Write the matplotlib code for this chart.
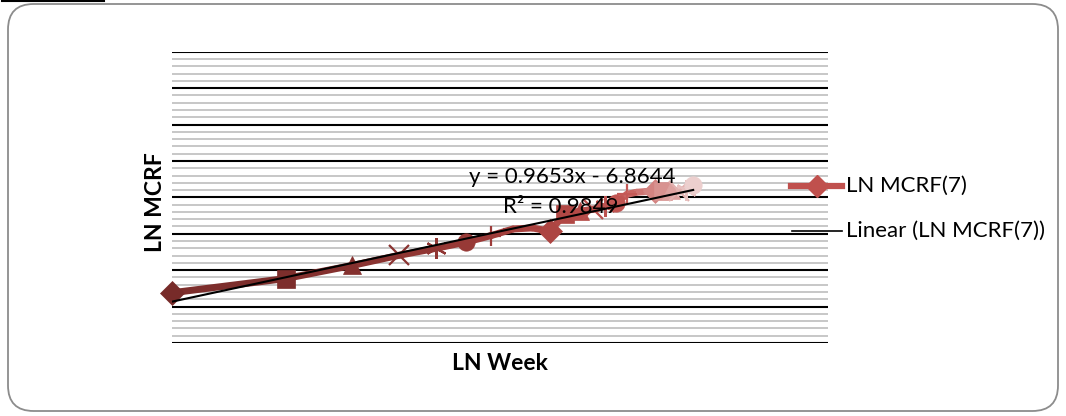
import numpy as np
import matplotlib
matplotlib.use("Agg")
import matplotlib.pyplot as plt
from matplotlib.colors import LinearSegmentedColormap
from matplotlib.patches import FancyBboxPatch
from matplotlib.lines import Line2D

# datos
semanas = list(range(1, 25))
ln_semana = [0.000, 0.693, 1.099, 1.386, 1.609, 1.792, 1.946, 2.079, 2.197, 2.303,
             2.398, 2.485, 2.565, 2.639, 2.708, 2.773, 2.833, 2.890, 2.944, 2.996,
             3.045, 3.091, 3.135, 3.178]
ln_mcrf = [-6.62, -6.23, -5.87, -5.59, -5.40, -5.23, -5.05, -4.87, -4.84, -4.93,
           -4.45, -4.38, -4.33, -4.25, -4.15, -3.92, -3.86, -3.84, -3.82, -3.82,
           -3.81, -3.82, -3.79, -3.66]
pendiente = 0.9653
intercepto = -6.8644
r2 = 0.9849

asterisco = (6, 2, 0)
marcadores = ["D", "s", "^", "x", asterisco, "o", "+", "_", "_"]
cmap = LinearSegmentedColormap.from_list("rojos", ["#772b29", "#a8403d", "#c55a57", "#eccfce"])
colores = [cmap(i / (len(semanas) - 1)) for i in range(len(semanas))]

plt.rcParams["font.family"] = ["Lato", "DejaVu Sans"]

fig = plt.figure(figsize=(10.66, 4.16), dpi=100)

# marco redondeado
marco = FancyBboxPatch((8 / 1066, 5 / 416), 1050 / 1066, 407 / 416,
                       boxstyle="round,pad=0,rounding_size=0.024",
                       transform=fig.transFigure, fill=False, edgecolor="#8c8c8c",
                       linewidth=1.3, mutation_aspect=1066 / 416)
fig.patches.append(marco)
fig.add_artist(Line2D([2 / 1066, 104 / 1066], [415 / 416, 415 / 416], color="black",
                      linewidth=1.5, transform=fig.transFigure))

ax = fig.add_axes([172 / 1066, 1 - 343 / 416, 656 / 1066, 291.3 / 416])
ax.set_xlim(0, 4)
ax.set_ylim(-8, 0)

# cuadricula
for y in np.arange(-8, 0.01, 0.2):
    if abs(y - round(y)) < 1e-6:
        ax.axhline(y, color="black", linewidth=1.5, zorder=1)
    else:
        ax.axhline(y, color="#bdbdbd", linewidth=1.2, zorder=0)

# serie con colores por punto
for i in range(1, len(semanas)):
    ax.plot(ln_semana[i - 1:i + 1], ln_mcrf[i - 1:i + 1], color=colores[i],
            linewidth=5, solid_capstyle="round", zorder=3)
for i in range(len(semanas)):
    m = marcadores[i % len(marcadores)]
    lineal = m in ["x", "+", "_", asterisco]
    ms = 15 if lineal else 12.5
    ax.plot(ln_semana[i], ln_mcrf[i], marker=m, markersize=ms, color=colores[i],
            markeredgewidth=1.6 if lineal else 0.5, zorder=4, clip_on=False)

# linea de tendencia
xt = np.array([ln_semana[0], ln_semana[-1]])
ax.plot(xt, pendiente * xt + intercepto, color="black", linewidth=1.5, zorder=5)

ax.text((572 - 172) / 164, -(177 - 51.7) / 36.4, "y = 0.9653x - 6.8644", ha="center",
        va="center", fontsize=16, zorder=6)
ax.text((561 - 172) / 164, -(207 - 51.7) / 36.4, "R² = 0.9849",
        ha="center", va="center", fontsize=16, zorder=6)

for s in ax.spines.values():
    s.set_visible(False)
ax.set_xticks([])
ax.set_yticks([])

fig.text(500 / 1066, 1 - 363 / 416, "LN Week", ha="center", va="center",
         fontsize=16.5, fontweight="bold")
fig.text(155 / 1066, 1 - 202 / 416, "LN MCRF", ha="center", va="center",
         fontsize=16.5, fontweight="bold", rotation=90)

# leyenda
fig.add_artist(Line2D([791 / 1066, 842 / 1066], [1 - 186 / 416] * 2, color="#c0504d",
                      linewidth=4.5, transform=fig.transFigure))
fig.add_artist(Line2D([817 / 1066], [1 - 186 / 416], marker="D", markersize=11,
                      color="#c0504d", transform=fig.transFigure))
fig.add_artist(Line2D([792 / 1066, 842 / 1066], [1 - 231 / 416] * 2, color="black",
                      linewidth=1.2, transform=fig.transFigure))
fig.text(846 / 1066, 1 - 186 / 416, "LN MCRF(7)", ha="left", va="center", fontsize=16)
fig.text(846 / 1066, 1 - 231 / 416, "Linear (LN MCRF(7))", ha="left", va="center",
         fontsize=16)

fig.savefig("out.png", dpi=100)
